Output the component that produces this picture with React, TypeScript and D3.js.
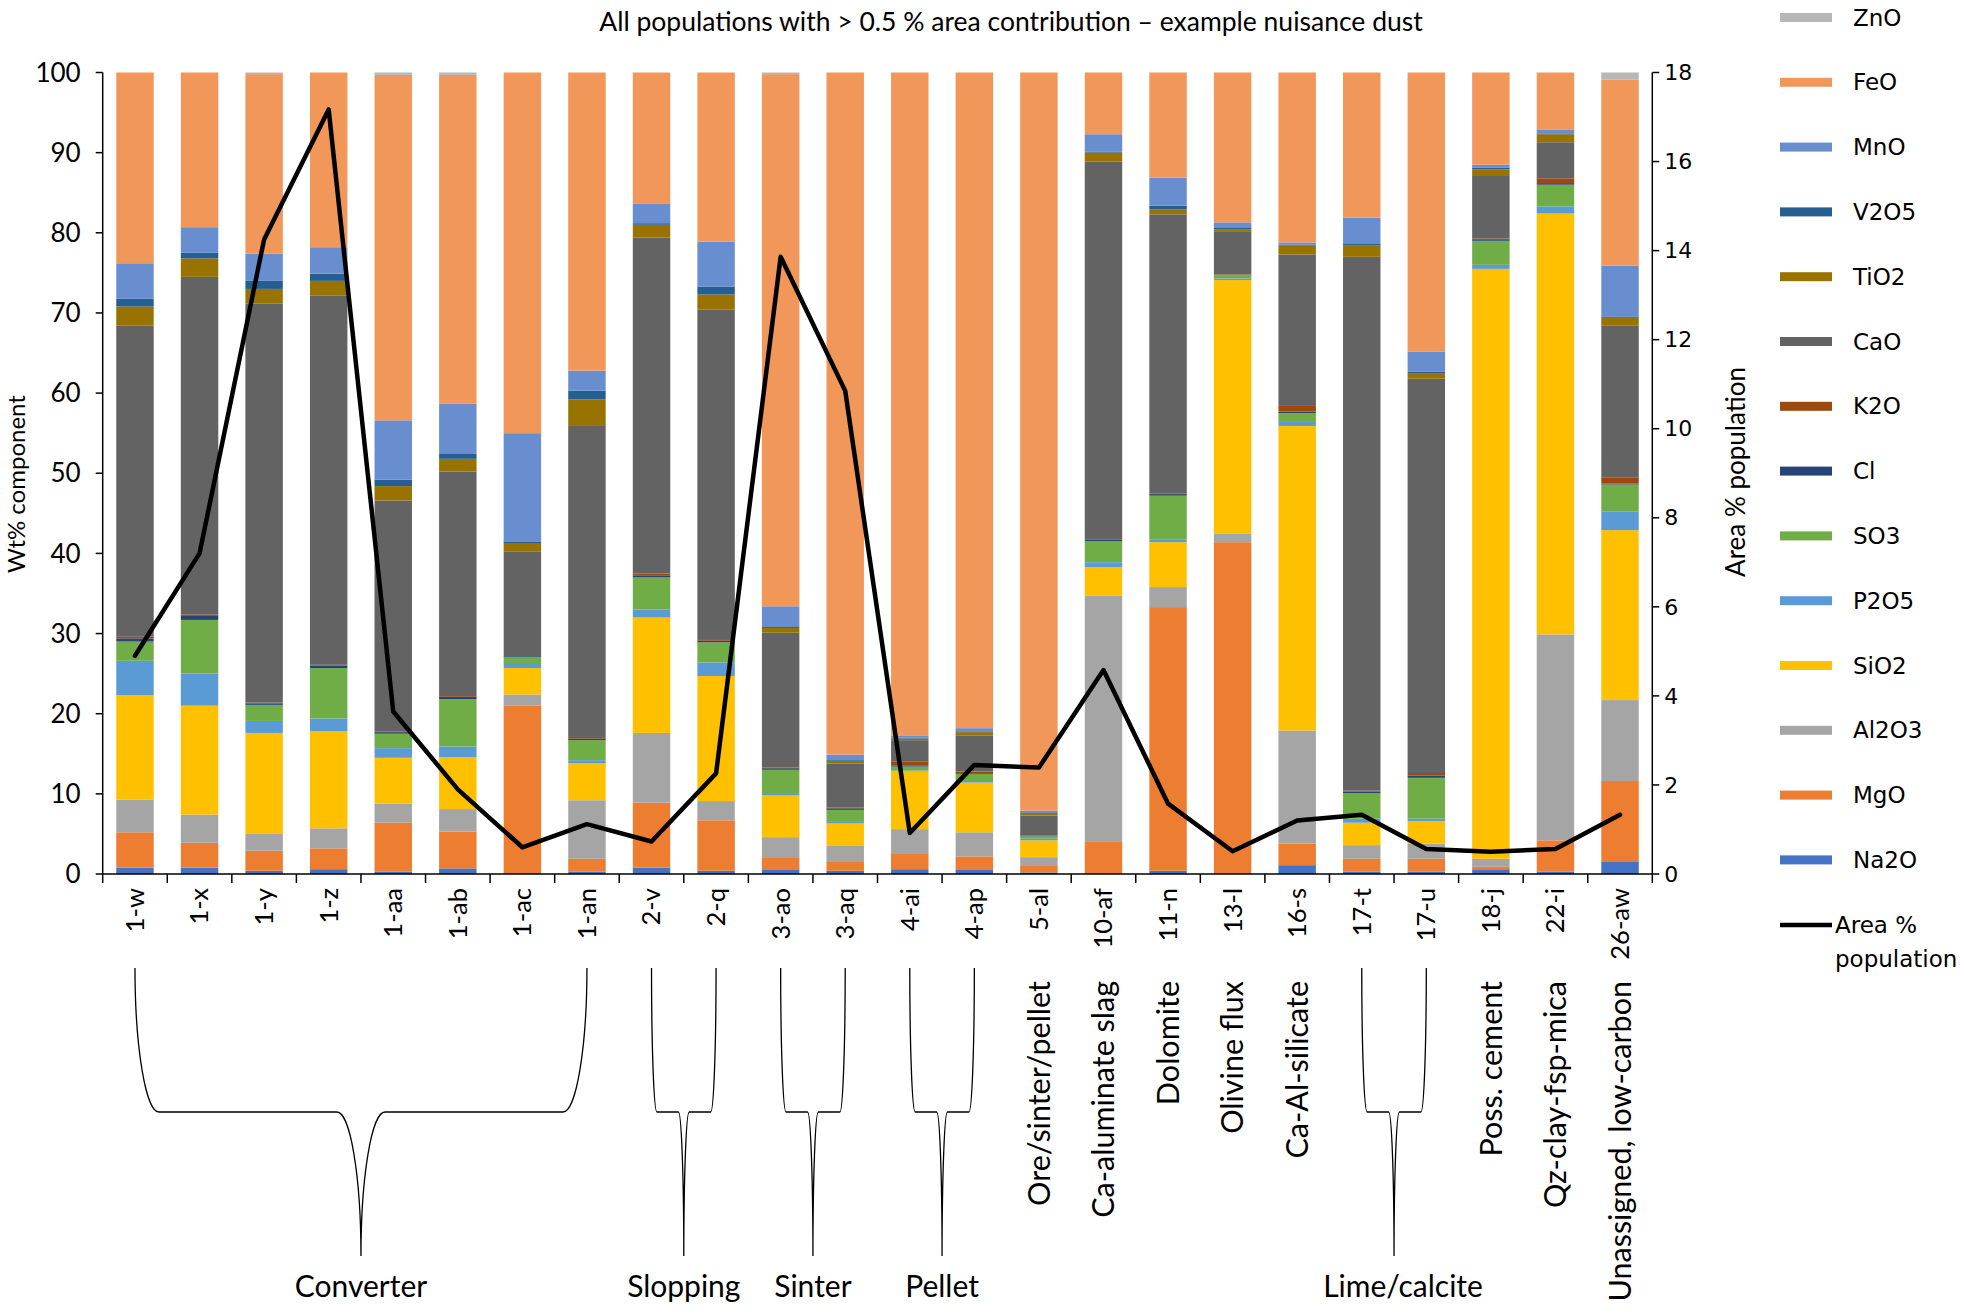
import React from 'react';
import * as d3 from 'd3';

const categories = ['1-w','1-x','1-y','1-z','1-aa','1-ab','1-ac','1-an','2-v','2-q','3-ao','3-aq','4-ai','4-ap','5-al','10-af','11-n','13-l','16-s','17-t','17-u','18-j','22-i','26-aw'];

const Na2O  = [0.8,0.8,0.4,0.6,0.3,0.7,0.1,0.3,0.8,0.4,0.5,0.4,0.6,0.5,0.2,0.1,0.4,0.1,1.1,0.3,0.3,0.5,0.3,1.5];
const MgO   = [4.4,3.1,2.5,2.6,6.1,4.6,20.9,1.6,8.1,6.3,1.6,1.1,2.0,1.7,0.9,3.9,32.9,41.3,2.7,1.6,1.6,0.4,3.9,10.1];
const Al2O3 = [4.1,3.5,2.1,2.5,2.4,2.8,1.4,7.3,8.7,2.4,2.5,2.0,3.0,3.0,1.0,30.7,2.5,1.1,14.1,1.7,1.9,1.0,25.7,10.1];
const SiO2  = [13.0,13.6,12.6,12.1,5.7,6.5,3.3,4.6,14.4,15.6,5.2,2.8,7.2,6.2,2.1,3.6,5.6,31.6,38.0,2.8,2.8,73.6,52.5,21.2];
const P2O5  = [4.3,4.0,1.5,1.6,1.2,1.3,0.5,0.4,1.0,1.7,0.3,0.2,0.1,0.2,0.2,0.6,0.3,0.2,0.5,0.5,0.3,0.5,0.9,2.3];
const SO3   = [2.4,6.7,2.0,6.3,1.8,5.9,0.9,2.5,4.0,2.5,2.9,1.5,0.5,0.9,0.3,2.6,5.5,0.4,1.1,3.2,5.1,3.0,2.7,3.4];
const Cl    = [0.4,0.5,0.2,0.3,0.2,0.3,0.1,0.2,0.2,0.2,0.2,0.2,0.1,0.1,0.1,0.2,0.2,0.0,0.2,0.2,0.3,0.2,0.2,0.1];
const K2O   = [0.2,0.2,0.1,0.1,0.1,0.1,0.0,0.2,0.3,0.1,0.1,0.1,0.5,0.2,0.0,0.1,0.1,0.1,0.8,0.1,0.3,0.1,0.6,0.8];
const CaO   = [38.8,42.1,49.8,46.1,28.8,28.0,13.0,38.8,41.9,41.2,16.8,5.5,2.7,4.5,2.5,47.1,34.8,5.4,18.8,66.6,49.2,7.9,4.5,18.9];
const TiO2  = [2.4,2.3,1.8,1.8,1.8,1.6,1.0,3.3,1.6,1.9,0.6,0.2,0.2,0.4,0.2,1.1,0.6,0.2,1.1,1.4,0.7,0.7,1.0,1.0];
const V2O5  = [1.0,0.7,1.0,0.9,0.8,0.6,0.3,1.1,0.2,1.0,0.2,0.2,0.1,0.1,0.1,0.1,0.5,0.2,0.1,0.2,0.2,0.2,0.1,0.1];
const MnO   = [4.4,3.2,3.4,3.3,7.4,6.3,13.5,2.5,2.4,5.6,2.5,0.7,0.3,0.4,0.3,2.2,3.5,0.7,0.3,3.3,2.5,0.4,0.5,6.4];
const FeO   = [23.8,19.3,22.4,21.8,43.1,41.0,45.0,37.2,16.4,21.1,66.4,85.1,82.7,81.8,92.1,7.7,13.1,18.7,21.2,18.1,34.8,11.5,7.1,23.2];
const ZnO   = [0,0,0.2,0,0.3,0.3,0,0,0,0,0.2,0,0,0,0,0,0,0,0,0,0,0,0,0.9];

const areaPct = [4.9,7.2,14.25,17.17,3.65,1.9,0.6,1.12,0.73,2.26,13.86,10.85,0.92,2.45,2.39,4.58,1.58,0.51,1.2,1.33,0.56,0.5,0.56,1.33];

const componentNames = ['Na2O','MgO','Al2O3','SiO2','P2O5','SO3','Cl','K2O','CaO','TiO2','V2O5','MnO','FeO','ZnO'];
const componentValues = [Na2O,MgO,Al2O3,SiO2,P2O5,SO3,Cl,K2O,CaO,TiO2,V2O5,MnO,FeO,ZnO];
const componentColors = ['#4472C4','#ED7D31','#A5A5A5','#FFC000','#5B9BD5','#70AD47','#264478','#9E480E','#636363','#997300','#255E91','#698ED0','#F1975A','#B7B7B7'];

const yTicks = [0,10,20,30,40,50,60,70,80,90,100];
const y2Ticks = [0,2,4,6,8,10,12,14,16,18];

const bracketGroups = [
  { label: 'Converter', from: '1-w', to: '1-an' },
  { label: 'Slopping', from: '2-v', to: '2-q' },
  { label: 'Sinter', from: '3-ao', to: '3-aq' },
  { label: 'Pellet', from: '4-ai', to: '4-ap' },
  { label: 'Lime/calcite', from: '17-t', to: '17-u' },
];
const singleGroups = [
  { label: 'Ore/sinter/pellet', cat: '5-al' },
  { label: 'Ca-aluminate slag', cat: '10-af' },
  { label: 'Dolomite', cat: '11-n' },
  { label: 'Olivine flux', cat: '13-l' },
  { label: 'Ca-Al-silicate', cat: '16-s' },
  { label: 'Poss. cement', cat: '18-j' },
  { label: 'Qz-clay-fsp-mica', cat: '22-i' },
  { label: 'Unassigned, low-carbon', cat: '26-aw' },
];

const W = 1961, H = 1307;
const left = 102.7, right = 1652.3, top = 72.5, bottom = 874;
const calibri = 'Lato, "Open Sans", sans-serif';
const gothic = '"DejaVu Sans", "Noto Sans", sans-serif';

function bracePath(x1: number, x2: number, t: number, b: number) {
  const ry = (b - t) / 2;
  const mid = t + ry;
  const cx = (x1 + x2) / 2;
  const r = Math.min(x2 - x1, b - t) * 0.0833;
  return `M${x1},${t} A${r},${ry} 0 0 0 ${x1 + r},${mid} L${cx - r},${mid} A${r},${ry} 0 0 1 ${cx},${b} A${r},${ry} 0 0 1 ${cx + r},${mid} L${x2 - r},${mid} A${r},${ry} 0 0 0 ${x2},${t}`;
}

export default function App() {
  const x = d3.scaleBand<string>().domain(categories).range([left, right]).paddingInner(0.42).paddingOuter(0.21);
  const bw = x.bandwidth();
  const cx = (c: string) => (x(c) as number) + bw / 2;
  const y = d3.scaleLinear().domain([0, 100]).range([bottom, top]);
  const y2 = d3.scaleLinear().domain([0, 18]).range([bottom, top]);

  const rows = categories.map((c, i) => {
    const r: any = { cat: c };
    componentNames.forEach((n, k) => { r[n] = componentValues[k][i]; });
    return r;
  });
  const stacked = d3.stack().keys(componentNames)(rows);

  const line = d3.line<number>().x((_, i) => cx(categories[i])).y(v => y2(v));

  const step = x.step();
  const boundaries = d3.range(categories.length + 1).map(i => left + i * step);

  const legendOrder = componentNames.map((n, k) => ({ n, c: componentColors[k] })).reverse();

  return (
    <svg width={W} height={H} style={{ position: 'absolute', left: 0, top: 0, background: '#fff' }}>
      <rect x={0} y={0} width={W} height={H} fill="#fff" />
      <text x={1011} y={31} textAnchor="middle" fontFamily={calibri} fontSize={26.5} fill="#000">
        All populations with &gt; 0.5 % area contribution – example nuisance dust
      </text>

      {stacked.map((s, k) => (
        <g key={componentNames[k]} fill={componentColors[k]}>
          {s.map((d, i) => (
            d[1] - d[0] > 0 ? (
              <rect key={i} x={x(categories[i])} y={y(d[1])} width={bw} height={Math.max(0, y(d[0]) - y(d[1]))} />
            ) : null
          ))}
        </g>
      ))}

      {/* left axis */}
      <line x1={left} x2={left} y1={top} y2={bottom} stroke="#000" strokeWidth={1.5} />
      {yTicks.map(t => (
        <g key={t}>
          <line x1={left - 7} x2={left} y1={y(t)} y2={y(t)} stroke="#000" strokeWidth={1.5} />
          <text x={left - 22} y={y(t)} dy="0.35em" textAnchor="end" fontFamily={calibri} fontSize={26} fill="#000">{t}</text>
        </g>
      ))}
      <text transform={`translate(17,484) rotate(-90)`} textAnchor="middle" dy="0.35em" fontFamily={calibri} fontSize={24} fill="#000">Wt% component</text>

      {/* right axis */}
      <line x1={right} x2={right} y1={top} y2={bottom} stroke="#000" strokeWidth={1.5} />
      {y2Ticks.map(t => (
        <g key={t}>
          <line x1={right} x2={right + 7} y1={y2(t)} y2={y2(t)} stroke="#000" strokeWidth={1.5} />
          <text x={right + 12} y={y2(t)} dy="0.35em" textAnchor="start" fontFamily={gothic} fontSize={22} fill="#000">{t}</text>
        </g>
      ))}
      <text transform={`translate(1736,472) rotate(-90)`} textAnchor="middle" dy="0.35em" fontFamily={calibri} fontSize={26} fill="#000">Area % population</text>

      {/* x axis */}
      <line x1={left} x2={right} y1={bottom} y2={bottom} stroke="#000" strokeWidth={1.5} />
      {boundaries.map((b, i) => (
        <line key={i} x1={b} x2={b} y1={bottom} y2={bottom + 9} stroke="#000" strokeWidth={1.5} />
      ))}
      {categories.map(c => (
        <text key={c} transform={`translate(${cx(c)},888) rotate(-90)`} dy="0.35em" textAnchor="end" fontFamily={calibri} fontSize={25.5} fill="#000">{c}</text>
      ))}

      {/* area line */}
      <path d={line(areaPct) as string} fill="none" stroke="#000" strokeWidth={4.5} strokeLinejoin="round" strokeLinecap="round" />

      {/* brackets */}
      {bracketGroups.map(g => {
        const x1 = cx(g.from), x2 = cx(g.to);
        const isLime = g.label === 'Lime/calcite';
        return (
          <g key={g.label}>
            <path d={bracePath(x1, x2, 968, 1256)} fill="none" stroke="#000" strokeWidth={1.3} />
            <text x={(x1 + x2) / 2 + (isLime ? 9 : 0)} y={1297} textAnchor="middle" fontFamily={calibri} fontSize={30} fill="#000">{g.label}</text>
          </g>
        );
      })}
      {singleGroups.map(g => (
        <text key={g.label} transform={`translate(${cx(g.cat)},981) rotate(-90)`} dy="0.35em" textAnchor="end" fontFamily={calibri} fontSize={30.5} fill="#000">{g.label}</text>
      ))}

      {/* legend */}
      {legendOrder.map((d, i) => {
        const ly = 17.5 + i * 64.8;
        return (
          <g key={d.n}>
            <rect x={1780} y={ly - 4.5} width={52} height={9} fill={d.c} />
            <text x={1853} y={ly} dy="0.35em" fontFamily={gothic} fontSize={23} fill="#000">{d.n}</text>
          </g>
        );
      })}
      <line x1={1780} x2={1832} y1={925} y2={925} stroke="#000" strokeWidth={4.5} />
      <text x={1835} y={925} dy="0.35em" fontFamily={gothic} fontSize={23} fill="#000">Area %</text>
      <text x={1835} y={959} dy="0.35em" fontFamily={gothic} fontSize={23} fill="#000">population</text>
    </svg>
  );
}
